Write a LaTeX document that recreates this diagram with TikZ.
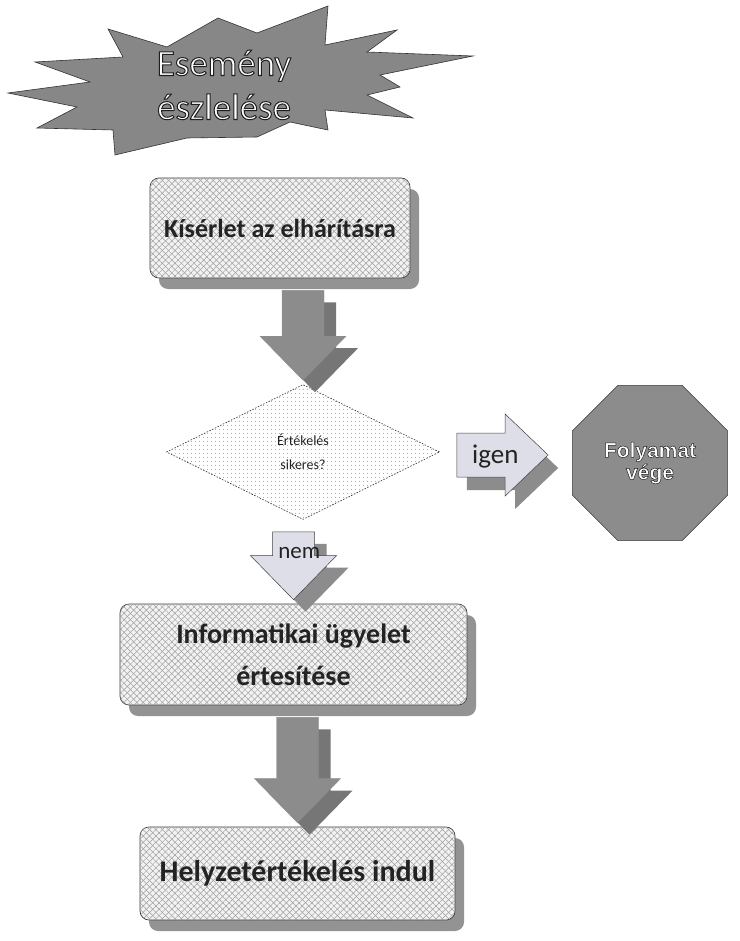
\documentclass[tikz,border=0pt]{standalone}
\usepackage{fontspec}
\setmainfont{Carlito}
\newfontfamily\arialfont{Liberation Sans}
\usetikzlibrary{shapes.geometric,patterns,patterns.meta,shadows,calc}
\definecolor{burstgray}{RGB}{135,135,135}
\definecolor{arrowgray}{RGB}{140,140,140}
\definecolor{arrowdark}{RGB}{118,118,118}
\definecolor{arrowlight}{RGB}{222,222,232}
\definecolor{boxfill}{RGB}{242,242,242}
\definecolor{inkgray}{RGB}{35,35,35}
% white letters with a dark rim
\newcommand{\rimtext}[2]{\special{pdf:literal direct 2 Tr #1 w 0.12 G}#2\special{pdf:literal direct 0 Tr}}
% block arrow outlines, canvas coordinates
\newcommand{\downshape}[3]{(#1-21pt,#2) -- (#1+21pt,#2) -- (#1+21pt,#3+44pt) -- (#1+43pt,#3+44pt) -- (#1,#3) -- (#1-43pt,#3+44pt) -- (#1-21pt,#3+44pt) -- cycle}
\newcommand{\rightshape}[3]{(#1,#3-22pt) -- (#1,#3+22pt) -- (#2-43pt,#3+22pt) -- (#2-43pt,#3+41pt) -- (#2,#3) -- (#2-43pt,#3-41pt) -- (#2-43pt,#3-22pt) -- cycle}
\newcommand{\blockdown}[4]{%
  \fill[#4] let \p1=(#1.south), \p2=(#2.north) in \downshape{\x2+12pt}{\y1-24pt}{\y2-8pt};
  \filldraw[#3] let \p1=(#1.south), \p2=(#2.north) in \downshape{\x2}{\y1-12pt}{\y2+4pt};}
\newcommand{\blockright}[4]{%
  \fill[#4] let \p1=(#1.east), \p2=(#2.west) in \rightshape{\x1+27pt}{\x2-14pt}{\y1-16pt};
  \filldraw[#3] let \p1=(#1.east), \p2=(#2.west) in \rightshape{\x1+17pt}{\x2-24pt}{\y1-3pt};}
\tikzset{
  procbox/.style={rectangle, rounded corners=9pt, draw=gray!45!black, line width=0.7pt,
    fill=boxfill, inner sep=0pt, align=center, text=inkgray,
    drop shadow={shadow xshift=9pt, shadow yshift=-11pt, fill=gray!85, opacity=1},
    postaction={pattern={Lines[angle=45, distance=4.5pt, line width=0.5pt]}, pattern color=gray!75},
    postaction={pattern={Lines[angle=-45, distance=4.5pt, line width=0.5pt]}, pattern color=gray!75}},
  decbox/.style={diamond, draw=gray!35!black, dash pattern=on 1.5pt off 1.5pt, line width=0.6pt,
    fill=white, postaction={pattern={Dots[distance=4pt, radius=0.6pt]}, pattern color=gray!85},
    inner sep=0pt, align=center, text=inkgray},
  endoct/.style={regular polygon, regular polygon sides=8, minimum size=168pt, inner sep=0pt,
    fill=arrowgray, draw=gray!45!black, line width=0.5pt, align=center, text=white},
  lbl/.style={inner sep=0pt, text=inkgray}
}
\begin{document}
\begin{tikzpicture}[x=1pt,y=-1pt]
  \useasboundingbox (0,0) rectangle (739,941);
  % star burst
  \filldraw[fill=burstgray, draw=gray!40!black, line width=0.6pt]
    (8,93) -- (90,82) -- (35,62) -- (123,57) -- (108,29) -- (167,47) -- (218,18) -- (257,33)
    -- (328,6) -- (325,45) -- (397,30) -- (367,52) -- (473,56) -- (380,75) -- (400,87)
    -- (367,95) -- (413,118) -- (325,110) -- (328,130) -- (290,122) -- (257,137) -- (187,138)
    -- (115,155) -- (113,130) -- (37,128) -- (77,107) -- cycle;
  \node[inner sep=0pt, align=center, text=white, font=\fontsize{37}{44}\selectfont] (event) at (224,85)
    {\rimtext{1.0}{Esemény}\\\rimtext{1.0}{észlelése}};

  \node[procbox, minimum width=260, minimum height=100, font=\bfseries\fontsize{26}{30}\selectfont]
    (attempt) at (280,228) {Kísérlet az elhárításra};
  \node[decbox, minimum width=273, minimum height=135, font=\fontsize{14}{24}\selectfont]
    (check) at (303,452) {Értékelés\\sikeres?};
  \node[endoct, font=\arialfont\bfseries\fontsize{21}{22}\selectfont] (done) at (650,463)
    {\rimtext{0.5}{Folyamat}\\\rimtext{0.5}{vége}};
  \node[procbox, minimum width=347, minimum height=101, font=\bfseries\fontsize{28}{42}\selectfont]
    (notify) at (293.5,654.5) {Informatikai ügyelet\\értesítése};
  \node[procbox, minimum width=315, minimum height=93, font=\bfseries\fontsize{30}{34}\selectfont]
    (assess) at (297.5,873.5) {Helyzetértékelés indul};

  % block arrows
  \blockdown{attempt}{check}{fill=arrowgray, draw=arrowgray}{arrowdark}
  \blockright{check}{done}{fill=arrowlight, draw=gray!50!black, line width=0.5pt}{arrowgray}
  \blockdown{check}{notify}{fill=arrowlight, draw=gray!50!black, line width=0.5pt}{arrowgray}
  \blockdown{notify}{assess}{fill=arrowgray, draw=arrowgray}{arrowdark}
  \node[lbl, font=\fontsize{27}{27}\selectfont] (yes) at ($(check.east)!0.42!(done.west)$) {igen};
  \node[lbl, font=\fontsize{23}{23}\selectfont] (no) at ($(check.south)!0.4!(notify.north)$) {nem};
\end{tikzpicture}
\end{document}
